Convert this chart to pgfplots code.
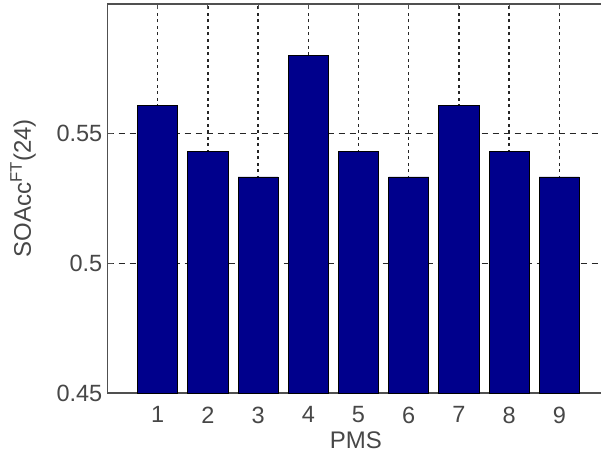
\documentclass[border=0pt]{standalone}
\usepackage{pgfplots}
\pgfplotsset{compat=1.18}
\usepackage{fontspec}
\setmainfont{Liberation Sans}
\definecolor{barblue}{RGB}{0,0,140}
\definecolor{axgray}{RGB}{80,80,80}
\begin{document}
\begin{tikzpicture}[x=1pt,y=1pt]
\begin{axis}[
  at={(107.5pt,63pt)}, anchor=south west,
  scale only axis, width=502pt, height=389pt,
  xmin=0, xmax=10, ymin=0.45, ymax=0.6,
  xtick={1,2,3,4,5,6,7,8,9},
  ytick={0.45,0.5,0.55},
  yticklabels={0.45,0.5,0.55},
  /pgf/number format/assume math mode=true,
  ticklabel style={font=\fontsize{23.5}{27}\selectfont, text=black!72},
  xticklabel style={anchor=north, inner sep=0pt, yshift=-13.5pt},
  yticklabel style={anchor=east, inner sep=0pt, xshift=-5pt},
  tick align=inside, major tick length=5pt,
  tick style={axgray, line width=1pt},
  axis line style={axgray, line width=1.5pt},
  grid=major,
  x grid style={black!85, line width=1.5pt, dash pattern=on 3pt off 3.5pt},
  y grid style={black!85, line width=1.5pt, dash pattern=on 6pt off 5pt},
  xlabel={PMS},
  xlabel style={at={(axis description cs:0.495,0)}, anchor=north, inner sep=0pt, yshift=-38.7pt, font=\fontsize{24}{28}\selectfont, text=black!72},
  ylabel={SOAcc\textsuperscript{FT}(24)},
  ylabel style={at={(axis description cs:-0.168,0.526)}, anchor=center, inner sep=0pt, font=\fontsize{24}{28}\selectfont, text=black!72},
]
\addplot[ybar, bar width=0.8, fill=barblue, draw=black, line width=0.8pt] coordinates {
  (1,0.5609) (2,0.5430) (3,0.5333) (4,0.5802) (5,0.5430)
  (6,0.5333) (7,0.5609) (8,0.5430) (9,0.5333)
};
\end{axis}
\pgfresetboundingbox
\useasboundingbox (0,0) rectangle (601pt,456pt);
\end{tikzpicture}
\end{document}
